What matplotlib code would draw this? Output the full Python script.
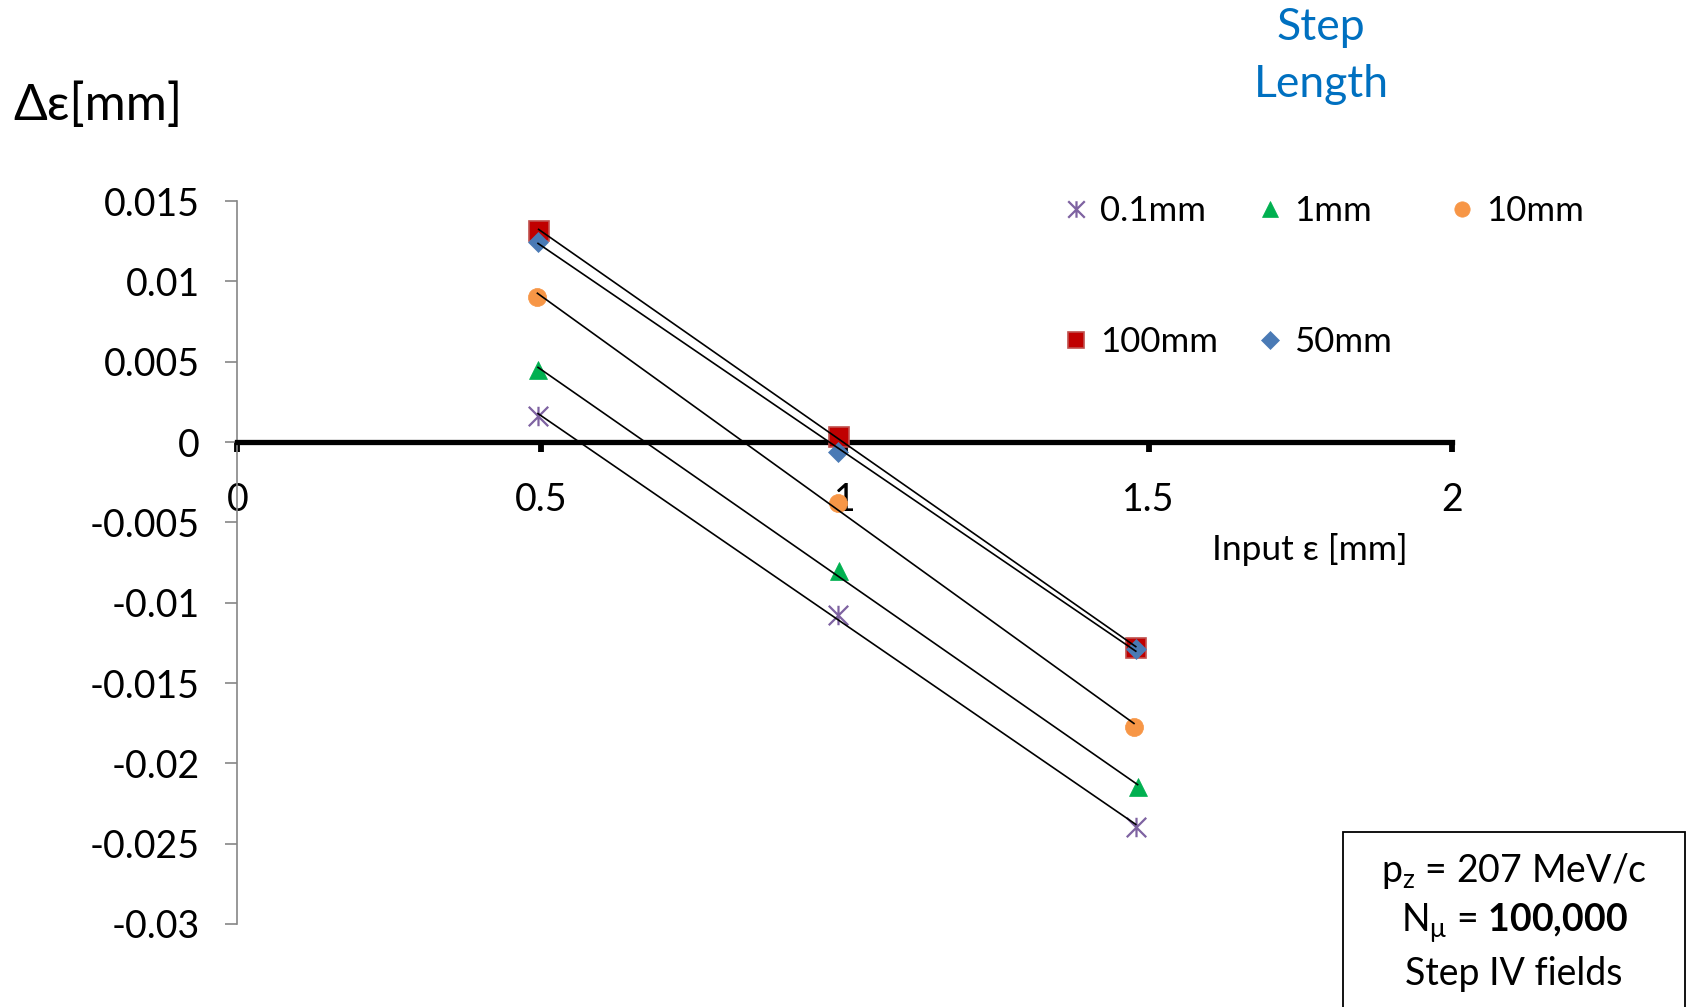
import numpy as np
import matplotlib
matplotlib.use("Agg")
import matplotlib.pyplot as plt
from matplotlib.path import Path
from matplotlib.patches import Rectangle

plt.rcParams['font.family'] = ['Lato', 'DejaVu Sans']
plt.rcParams['mathtext.fontset'] = 'custom'
plt.rcParams['mathtext.rm'] = 'Lato'
plt.rcParams['mathtext.it'] = 'Lato:italic'
plt.rcParams['mathtext.bf'] = 'Lato:bold'

# ---- data ----
labels = ["0.1mm", "1mm", "10mm", "100mm", "50mm"]
x_01 = [0.495, 0.989, 1.479]
y_01 = [0.00162, -0.01077, -0.02395]
x_1 = [0.495, 0.990, 1.482]
y_1 = [0.00448, -0.00805, -0.02149]
x_10 = [0.494, 0.989, 1.476]
y_10 = [0.00905, -0.00382, -0.01773]
x_100 = [0.496, 0.990, 1.479]
y_100 = [0.01316, 0.00033, -0.01281]
x_50 = [0.495, 0.989, 1.479]
y_50 = [0.01247, -0.00060, -0.01291]

xticks = [0, 0.5, 1, 1.5, 2]
xticklabels = ["0", "0.5", "1", "1.5", "2"]
yticks = [-0.03, -0.025, -0.02, -0.015, -0.01, -0.005, 0, 0.005, 0.01, 0.015]
yticklabels = ["-0.03", "-0.025", "-0.02", "-0.015", "-0.01", "-0.005", "0", "0.005", "0.01", "0.015"]

# ---- style ----
star = Path([(0, -1), (0, 1), (-1, -1), (1, 1), (-1, 1), (1, -1)],
            [Path.MOVETO, Path.LINETO, Path.MOVETO, Path.LINETO, Path.MOVETO, Path.LINETO])

series = [
    (x_01, y_01, dict(marker=star, ms=14, mfc='none', mec='#7E62A1', mew=1.6)),
    (x_1, y_1, dict(marker='^', ms=13, mfc='#00B050', mec='#00B050', mew=0.5)),
    (x_10, y_10, dict(marker='o', ms=13, mfc='#F79646', mec='#F79646', mew=0.5)),
    (x_100, y_100, dict(marker='s', ms=14, mfc='#C00000', mec='#C0504D', mew=1.2)),
    (x_50, y_50, dict(marker='D', ms=10.5, mfc='#4A7AB5', mec='#4A7AB5', mew=0.5)),
]

W, H = 1688, 1007
fig = plt.figure(figsize=(W / 100, H / 100), dpi=100)
ax = fig.add_axes([237.3 / W, 1 - 924 / H, (1452.3 - 237.3) / W, (924 - 201) / H])

handles = []
for (xs, ys, st), lab in zip(series, labels):
    h, = ax.plot(xs, ys, linestyle='none', label=lab, zorder=3, **st)
    handles.append(h)
    # linear trendline
    k, b = np.polyfit(xs, ys, 1)
    xl = np.array([min(xs), max(xs)])
    ax.plot(xl, k * xl + b, color='black', lw=1.2, zorder=4)

ax.set_xlim(0, 2)
ax.set_ylim(-0.03, 0.015)

ax.spines['top'].set_visible(False)
ax.spines['right'].set_visible(False)
ax.spines['bottom'].set_position(('data', 0))
ax.spines['bottom'].set_linewidth(3.8)
ax.spines['bottom'].set_color('black')
ax.spines['left'].set_color('#868686')
ax.spines['left'].set_linewidth(1.2)

ax.set_xticks(xticks)
ax.set_xticklabels(xticklabels)
ax.set_yticks(yticks)
ax.set_yticklabels(yticklabels)
ax.tick_params(axis='x', direction='out', length=7.5, width=4.2, color='black',
               labelsize=27, pad=21)
ax.tick_params(axis='y', direction='out', length=9, width=1.2, color='#868686',
               labelsize=27, pad=18)

# legend: three columns (0.1mm/100mm, 1mm/50mm, 10mm)
columns = [[0, 3], [1, 4], [2]]
col_x = [1064, 1258, 1450]
for idx, cx0 in zip(columns, col_x):
    lg = fig.legend([handles[i] for i in idx], [labels[i] for i in idx],
                    ncol=1, loc='upper left', bbox_to_anchor=(cx0 / W, 1 - 195 / H),
                    bbox_transform=fig.transFigure, frameon=False, fontsize=25,
                    labelspacing=2.85, handlelength=0.7,
                    handletextpad=0.35, borderpad=0, borderaxespad=0, markerscale=0.85)

# texts
fig.text(13 / W, 1 - 106 / H, "Δε[mm]", fontsize=36, ha='left', va='center')
fig.text(1321 / W, 1 - 56 / H, "Step\nLength", fontsize=32, color='#0070C0',
         ha='center', va='center', linespacing=1.5)
fig.text(1310 / W, 1 - 549 / H, "Input ε [mm]", fontsize=25.5, ha='center', va='center')

# info box
fig.patches.append(Rectangle((1343 / W, -0.02), (1685 - 1343) / W, 0.02 + 1 - 832 / H,
                             transform=fig.transFigure, facecolor='white',
                             edgecolor='black', lw=1.3, zorder=5))
cx = 1514 / W
fig.text(cx, 1 - 871 / H, r"p$_\mathrm{z}$ = 207 MeV/c", fontsize=27, ha='center', va='center', zorder=6)
fig.text(cx, 1 - 923 / H, r"N$_\mathrm{\mu}$ = $\mathbf{100{,}000}$", fontsize=27, ha='center', va='center', zorder=6)
fig.text(cx, 1 - 974 / H, "Step IV fields", fontsize=27, ha='center', va='center', zorder=6)

fig.savefig("out.png", dpi=100)
